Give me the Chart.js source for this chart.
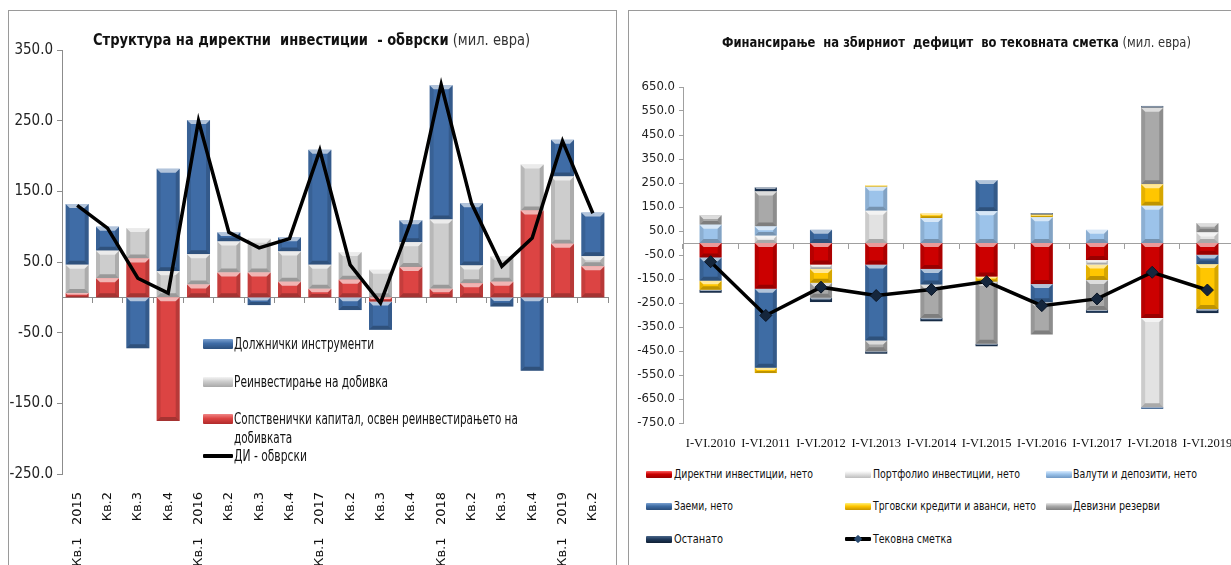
<!DOCTYPE html>
<html lang="mk">
<head>
<meta charset="utf-8">
<title>ДИ и финансирање</title>
<script src="https://cdn.jsdelivr.net/npm/chart.js@4.4.1/dist/chart.umd.min.js"></script>
<style>
html,body{margin:0;padding:0;background:#fff;}
body{width:1231px;height:565px;overflow:hidden;position:relative;font-family:"Liberation Sans Narrow","DejaVu Sans Condensed","Liberation Sans",sans-serif;}
.box{position:absolute;border:1px solid #9a9a9a;box-sizing:border-box;background:#fff;}
#boxL{left:8px;top:10px;width:609px;height:620px;}
#boxR{left:628px;top:10px;width:640px;height:620px;}
canvas{position:absolute;}
#cL{left:9px;top:10px;}
#cR{left:628px;top:10px;}
.title{position:absolute;white-space:pre;font-size:15px;color:#111;line-height:18px;transform-origin:0 50%;}
.title b{font-weight:bold;}
.title span{font-weight:normal;color:#333;}
.sw{position:absolute;border-radius:1px;}
.lt{position:absolute;white-space:pre;transform-origin:0 50%;}
</style>
</head>
<body>
<div class="box" id="boxL"></div>
<div class="box" id="boxR"></div>
<canvas id="cL" width="607" height="600"></canvas>
<canvas id="cR" width="617" height="450"></canvas>

<div class="title" id="tL" style="left:93px;top:31px;"><b>Структура на директни  инвестиции  - обврски</b><span> (мил. евра)</span></div>
<div class="title" id="tR" style="left:722px;top:33px;font-size:14px;"><b>Финансирање  на збирниот  дефицит  во тековната сметка</b><span> (мил. евра)</span></div>

<div id="legL"></div>
<div id="legR"></div>

<script>
// ---------- Left chart data ----------
const quarterLabels = ['Кв.1   2015','Кв.2','Кв.3','Кв.4','Кв.1   2016','Кв.2','Кв.3','Кв.4','Кв.1   2017','Кв.2','Кв.3','Кв.4','Кв.1   2018','Кв.2','Кв.3','Кв.4','Кв.1   2019','Кв.2'];
const equityExReinvested = [6, 27, 55, -175, 18, 35, 35, 22, 12, 25, -6, 43, 12, 20, 22, 123, 76, 44];
const reinvestedEarnings = [40, 39, 43, 37, 43, 44, 48, 43, 34, 39, 39, 35, 98, 25, 36, 65, 95, 14];
const debtInstruments   = [86, 34, -72, 145, 190, 13, -11, 20, 163, -18, -40, 31, 190, 88, -13, -104, 52, 62];
const fdiLiabilities    = [130, 98, 27, 6, 250, 92, 70, 83, 208, 46, -8, 107, 301, 133, 44, 84, 221, 119];
const leftTickValues = [-250, -150, -50, 50, 150, 250, 350];
const leftTickLabels = ['-250.0', '-150.0', '-50.0', '50.0', '150.0', '250.0', '350.0'];

// ---------- Right chart data ----------
const periodLabels = ['I-VI.2010','I-VI.2011','I-VI.2012','I-VI.2013','I-VI.2014','I-VI.2015','I-VI.2016','I-VI.2017','I-VI.2018','I-VI.2019'];
const directInvNet    = [-60, -191, -90, -90, -108, -140, -171, -71, -312, -49];
const portfolioNet    = [0, 30, -18, 134, 0, 0, 0, -19, -372, 44];
const currencyDeposit = [76, 39, 0, 100, 104, 132, 107, 55, 155, 0];
const loansNet        = [-97, -329, 55, -316, -65, 130, -76, 0, -7, -39];
const tradeCredits    = [-38, -22, -58, 6, 19, -21, 11, -64, 90, -187];
const fxReserves      = [40, 146, -62, -45, -139, -259, -134, -125, 319, 39];
const otherFlows      = [-12, 17, -18, -10, -14, -10, 7, -12, 7, -17];
const currentAccount  = [-78, -302, -184, -219, -194, -161, -261, -233, -122, -196];
const rightTickValues = [-750, -650, -550, -450, -350, -250, -150, -50, 50, 150, 250, 350, 450, 550, 650];
const rightTickLabels = ['-750.0','-650.0','-550.0','-450.0','-350.0','-250.0','-150.0','-50.0','50.0','150.0','250.0','350.0','450.0','550.0','650.0'];

const NARROW = '"Liberation Sans Narrow","DejaVu Sans Condensed","Liberation Sans",sans-serif';

// Excel-like bevel on each bar segment
const bevel = {
  id: 'bevel',
  afterDatasetDraw(chart, args) {
    const meta = args.meta;
    if (meta.type !== 'bar') return;
    const ctx = chart.ctx;
    ctx.save();
    meta.data.forEach(el => {
      const p = el.getProps(['x', 'y', 'base', 'width'], true);
      const top = Math.min(p.y, p.base), bot = Math.max(p.y, p.base);
      const h = bot - top;
      if (h < 1) return;
      const l = p.x - p.width / 2, r = p.x + p.width / 2;
      const b = Math.min(4, h / 2.5, p.width / 4);
      const poly = (pts, c) => { ctx.fillStyle = c; ctx.beginPath(); ctx.moveTo(pts[0], pts[1]); for (let i = 2; i < pts.length; i += 2) ctx.lineTo(pts[i], pts[i + 1]); ctx.closePath(); ctx.fill(); };
      poly([l, top, r, top, r - b, top + b, l + b, top + b], 'rgba(255,255,255,0.6)');
      poly([l, bot, r, bot, r - b, bot - b, l + b, bot - b], 'rgba(0,0,0,0.25)');
      poly([l, top, l + b, top + b, l + b, bot - b, l, bot], 'rgba(0,0,0,0.10)');
      poly([r, top, r - b, top + b, r - b, bot - b, r, bot], 'rgba(0,0,0,0.16)');
    });
    ctx.restore();
  }
};

function barSet(label, data, color, pct) {
  return { type: 'bar', label, data, backgroundColor: color, borderWidth: 0, xAxisID: 'x', yAxisID: 'y', order: 1, categoryPercentage: 1, barPercentage: pct };
}
function noPad(s) { s.paddingLeft = 0; s.paddingRight = 0; }

// ---------- Left chart ----------
new Chart(document.getElementById('cL'), {
  data: {
    labels: quarterLabels,
    datasets: [
      barSet('Сопственички капитал, освен реинвестирањето на добивката', equityExReinvested, '#dc4443', 0.76),
      barSet('Реинвестирање на добивка', reinvestedEarnings, '#cdcdcd', 0.76),
      barSet('Должнички инструменти', debtInstruments, '#3f6ca6', 0.76),
      { type: 'line', label: 'ДИ - обврски', data: fdiLiabilities, borderColor: '#000', borderWidth: 3.5, pointRadius: 0, tension: 0, stack: 'line', xAxisID: 'x', yAxisID: 'y', order: 0 }
    ]
  },
  options: {
    responsive: false, animation: false, maintainAspectRatio: false,
    layout: { padding: { top: 40, right: 8, left: 0, bottom: 0 } },
    plugins: { legend: { display: false }, tooltip: { enabled: false } },
    scales: {
      x: { type: 'category', position: { y: 0 }, stacked: true, offset: true,
           ticks: { display: false },
           grid: { display: true, offset: true, drawOnChartArea: false, drawTicks: true, tickLength: 5, color: '#8c8c8c' },
           border: { display: true, color: '#8c8c8c', width: 1 },
           afterFit: noPad },
      x2: { type: 'category', position: 'bottom', offset: true,
            grid: { display: false, drawTicks: false }, border: { display: false },
            ticks: { autoSkip: false, maxRotation: 90, minRotation: 90, padding: 18, color: '#111', font: { family: '"DejaVu Sans",sans-serif', size: 13 } },
            afterFit(s) { s.height = 600 - 464; noPad(s); } },
      y: { stacked: true, min: -250, max: 350,
           afterBuildTicks(s) { s.ticks = leftTickValues.map(v => ({ value: v })); },
           ticks: { callback: (v, i) => leftTickLabels[i], color: '#222', padding: 4, font: { family: NARROW, size: 15 } },
           grid: { display: true, drawOnChartArea: false, drawTicks: true, tickLength: 5, color: '#8c8c8c' },
           border: { display: true, color: '#8c8c8c' },
           afterFit(s) { s.width = 53; } }
    }
  },
  plugins: [bevel]
});

// ---------- Right chart ----------
new Chart(document.getElementById('cR'), {
  data: {
    labels: periodLabels,
    datasets: [
      barSet('Директни инвестиции, нето', directInvNet, '#cc0000', 0.4),
      barSet('Портфолио инвестиции, нето', portfolioNet, '#e2e2e2', 0.4),
      barSet('Валути и депозити, нето', currencyDeposit, '#9cc3ea', 0.4),
      barSet('Заеми, нето', loansNet, '#3e6ca4', 0.4),
      barSet('Трговски кредити и аванси, нето', tradeCredits, '#ffc600', 0.4),
      barSet('Девизни резерви', fxReserves, '#a9a9a9', 0.4),
      barSet('Останато', otherFlows, '#1f3a5c', 0.4),
      { type: 'line', label: 'Тековна сметка', data: currentAccount, borderColor: '#000', borderWidth: 3.5, tension: 0, stack: 'line',
        pointStyle: 'rectRot', pointRadius: 6, pointBackgroundColor: '#15263c', pointBorderColor: '#0b1626', pointBorderWidth: 1,
        xAxisID: 'x', yAxisID: 'y', order: 0 }
    ]
  },
  options: {
    responsive: false, animation: false, maintainAspectRatio: false,
    layout: { padding: { top: 77, right: 10, left: 0, bottom: 0 } },
    plugins: { legend: { display: false }, tooltip: { enabled: false } },
    scales: {
      x: { type: 'category', position: { y: 0 }, stacked: true, offset: true,
           ticks: { display: false },
           grid: { display: true, offset: true, drawOnChartArea: false, drawTicks: true, tickLength: 5, color: '#a0a0a0' },
           border: { display: true, color: '#a0a0a0', width: 1 },
           afterFit: noPad },
      x2: { type: 'category', position: 'bottom', offset: true,
            grid: { display: false, drawTicks: false }, border: { display: false },
            ticks: { autoSkip: false, maxRotation: 0, minRotation: 0, padding: 13, color: '#111', font: { family: '"Liberation Serif","DejaVu Serif",serif', size: 12.5 } },
            afterFit(s) { s.height = 450 - 413; noPad(s); } },
      y: { stacked: true, min: -750, max: 650,
           afterBuildTicks(s) { s.ticks = rightTickValues.map(v => ({ value: v })); },
           ticks: { callback: (v, i) => rightTickLabels[i], color: '#222', padding: 4, font: { family: NARROW, size: 13 } },
           grid: { display: true, drawOnChartArea: false, drawTicks: true, tickLength: 4, color: '#a0a0a0' },
           border: { display: true, color: '#a0a0a0' },
           afterFit(s) { s.width = 55; } }
    }
  },
  plugins: [bevel]
});

// ---------- HTML titles and legends (fitted to the reference text widths) ----------
function fitWidth(el, target) {
  const w = el.getBoundingClientRect().width;
  if (w > 0) el.style.transform = 'scaleX(' + (target / w).toFixed(3) + ')';
}
fitWidth(document.getElementById('tL'), 437);
fitWidth(document.getElementById('tR'), 469);

function grad(c1, c2, c3) { return 'linear-gradient(' + c1 + ',' + c2 + ' 45%,' + c3 + ')'; }
function addLegend(parentId, items) {
  const host = document.getElementById(parentId);
  items.forEach(it => {
    const sw = document.createElement('div');
    sw.className = 'sw';
    sw.style.left = it.x + 'px'; sw.style.top = (it.y - it.h / 2) + 'px';
    sw.style.width = it.w + 'px'; sw.style.height = it.h + 'px';
    sw.style.background = it.bg;
    host.appendChild(sw);
    if (it.marker) {
      const m = document.createElement('div');
      m.className = 'sw';
      m.style.left = (it.x + it.w / 2 - 3) + 'px'; m.style.top = (it.y - 3) + 'px';
      m.style.width = '6px'; m.style.height = '6px'; m.style.background = '#2a4a70'; m.style.transform = 'rotate(45deg)';
      host.appendChild(m);
    }
    const t = document.createElement('div');
    t.className = 'lt';
    t.textContent = it.text;
    t.style.left = it.tx + 'px'; t.style.top = (it.y - it.fs * 0.62) + 'px';
    t.style.fontSize = it.fs + 'px'; t.style.color = '#111';
    if (it.lh) { t.style.lineHeight = it.lh + 'px'; }
    host.appendChild(t);
    fitWidth(t, it.tw);
  });
}

addLegend('legL', [
  { x: 203, y: 344, w: 30, h: 10, bg: grad('#7aa0d0', '#3f6ca6', '#2c507e'), tx: 234, fs: 15, tw: 140, text: 'Должнички инструменти' },
  { x: 203, y: 382, w: 30, h: 10, bg: grad('#f4f4f4', '#cdcdcd', '#a8a8a8'), tx: 234, fs: 15, tw: 154, text: 'Реинвестирање на добивка' },
  { x: 203, y: 419, w: 30, h: 10, bg: grad('#f08585', '#dc4443', '#b02a2a'), tx: 234, fs: 15, lh: 19, tw: 284, text: 'Сопственички капитал, освен реинвестирањето на\nдобивката' },
  { x: 203, y: 456, w: 30, h: 4, bg: '#000', tx: 234, fs: 15, tw: 73, text: 'ДИ - обврски' }
]);

addLegend('legR', [
  { x: 646, y: 474, w: 26, h: 7, bg: grad('#ff6060', '#cc0000', '#990000'), tx: 674, fs: 13, tw: 139, text: 'Директни инвестиции, нето' },
  { x: 845, y: 474, w: 26, h: 7, bg: grad('#ffffff', '#e2e2e2', '#bdbdbd'), tx: 873, fs: 13, tw: 147, text: 'Портфолио инвестиции, нето' },
  { x: 1046, y: 474, w: 26, h: 7, bg: grad('#d8ebff', '#9cc3ea', '#6f98c4'), tx: 1073, fs: 13, tw: 124, text: 'Валути и депозити, нето' },
  { x: 646, y: 506, w: 26, h: 7, bg: grad('#7aa0d0', '#3e6ca4', '#2a4d7a'), tx: 674, fs: 13, tw: 59, text: 'Заеми, нето' },
  { x: 845, y: 506, w: 26, h: 7, bg: grad('#fff07a', '#ffc600', '#c89600'), tx: 873, fs: 13, tw: 163, text: 'Трговски кредити и аванси, нето' },
  { x: 1046, y: 506, w: 26, h: 7, bg: grad('#e8e8e8', '#a9a9a9', '#7f7f7f'), tx: 1073, fs: 13, tw: 87, text: 'Девизни резерви' },
  { x: 646, y: 539, w: 26, h: 7, bg: grad('#4a6688', '#1f3a5c', '#101f33'), tx: 674, fs: 13, tw: 49, text: 'Останато' },
  { x: 845, y: 539, w: 26, h: 4, bg: '#000', marker: true, tx: 873, fs: 13, tw: 79, text: 'Тековна сметка' }
]);
</script>
</body>
</html>
